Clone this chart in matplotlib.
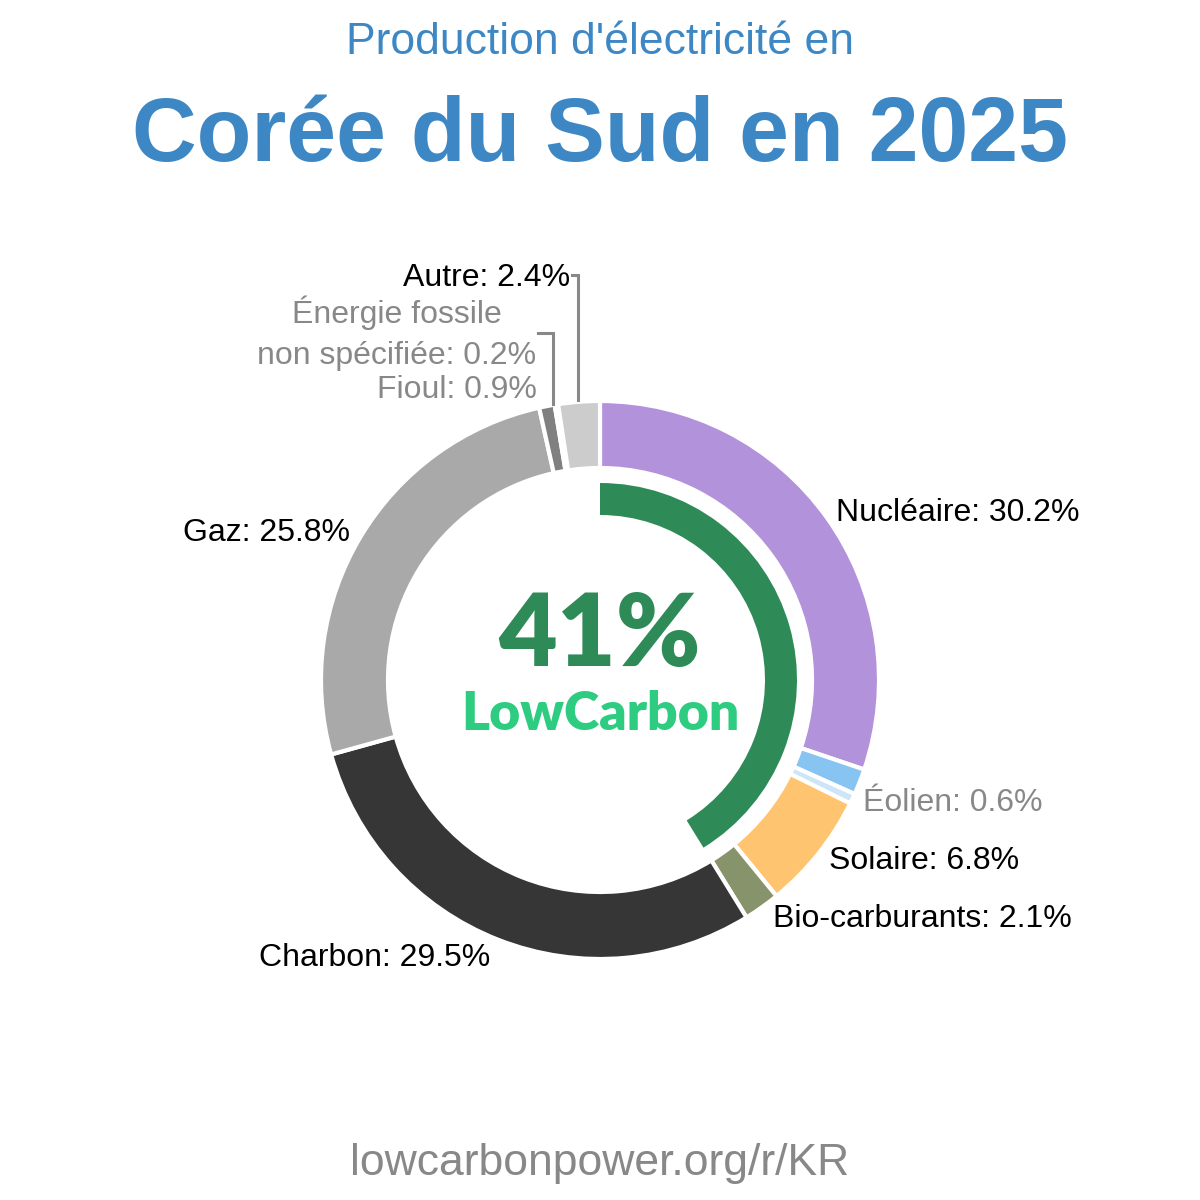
import matplotlib
matplotlib.use("Agg")
import matplotlib.pyplot as plt
from matplotlib.patches import Wedge

# ---- data ----
sources = ["Nucléaire", "Hydroélectricité", "Éolien", "Solaire", "Bio-carburants",
           "Charbon", "Gaz", "Fioul", "Énergie fossile\nnon spécifiée", "Autre"]
shares = [30.2, 1.5, 0.6, 6.8, 2.1, 29.5, 25.8, 0.9, 0.2, 2.4]
colors = ["#b292db", "#88c4f2", "#cce6f7", "#ffc46f", "#87936a",
          "#363636", "#a9a9a9", "#808080", "#8c8c8c", "#cccccc"]
low_carbon = ["Nucléaire", "Hydroélectricité", "Éolien", "Solaire", "Bio-carburants"]
title_top = "Production d'électricité en"
title_main = "Corée du Sud en 2025"
footer = "lowcarbonpower.org/r/KR"

FONT = "Liberation Sans"
fig = plt.figure(figsize=(12, 12), dpi=100)
ax = fig.add_axes([0, 0, 1, 1])

def Y(y):
    return 1200 - y

cx, cy = 600, Y(680)
ax.pie(shares, colors=colors, radius=279, center=(cx, cy), startangle=90,
       counterclock=False, frame=True,
       wedgeprops=dict(width=67, edgecolor="white", linewidth=3))
ax.set_xlim(0, 1200)
ax.set_ylim(0, 1200)
ax.set_aspect("equal")
ax.axis("off")

lc = sum(v for s, v in zip(sources, shares) if s in low_carbon)
ax.add_patch(Wedge((cx, cy), 197, 90 - 360 * lc / 100, 90, width=32,
                   facecolor="#2e8b57", edgecolor="none"))

ax.text(600, Y(637), f"{lc:.0f}%", ha="center", va="center", fontsize=73,
        fontweight="heavy", family="Lato", color="#2e8b57")
ax.text(600, Y(714), "LowCarbon", ha="center", va="center", fontsize=38.5,
        fontweight="heavy", family="Lato", color="#2ecc80")

# titles
ax.text(600, Y(43), title_top, ha="center", va="center", fontsize=32,
        family=FONT, color="#3d88c4")
ax.text(600, Y(137), title_main, ha="center", va="center", fontsize=64.5,
        family=FONT, fontweight="bold", color="#3d88c4")
ax.text(600, Y(1163), footer, ha="center", va="center", fontsize=32,
        family=FONT, color="#888888")

def lbl(i):
    return f"{sources[i]}: {shares[i]}%"

fs = 23
d = 3
ax.text(836, Y(510 + d), lbl(0), ha="left", va="center", fontsize=fs, family=FONT, color="black")
ax.text(863, Y(800 + d), lbl(2), ha="left", va="center", fontsize=fs, family=FONT, color="#888888")
ax.text(829, Y(858 + d), lbl(3), ha="left", va="center", fontsize=fs, family=FONT, color="black")
ax.text(773, Y(916 + d), lbl(4), ha="left", va="center", fontsize=fs, family=FONT, color="black")
ax.text(490, Y(955 + d), lbl(5), ha="right", va="center", fontsize=fs, family=FONT, color="black")
ax.text(350, Y(530 + d), lbl(6), ha="right", va="center", fontsize=fs, family=FONT, color="black")
ax.text(537, Y(387 + d), lbl(7), ha="right", va="center", fontsize=fs, family=FONT, color="#888888")
ax.text(397, Y(333), lbl(8), ha="center", va="center", fontsize=fs, family=FONT,
        color="#888888", linespacing=1.5)
ax.text(570, Y(275 + d), lbl(9), ha="right", va="center", fontsize=fs, family=FONT, color="black")

# leader lines
ax.plot([572, 578, 578], [Y(275), Y(275), Y(400)], color="#888888", lw=2.2,
        solid_joinstyle="miter")
ax.plot([538, 553, 553], [Y(333), Y(333), Y(404)], color="#888888", lw=2.2,
        solid_joinstyle="miter")

fig.savefig("out.png", dpi=100, facecolor="white")
